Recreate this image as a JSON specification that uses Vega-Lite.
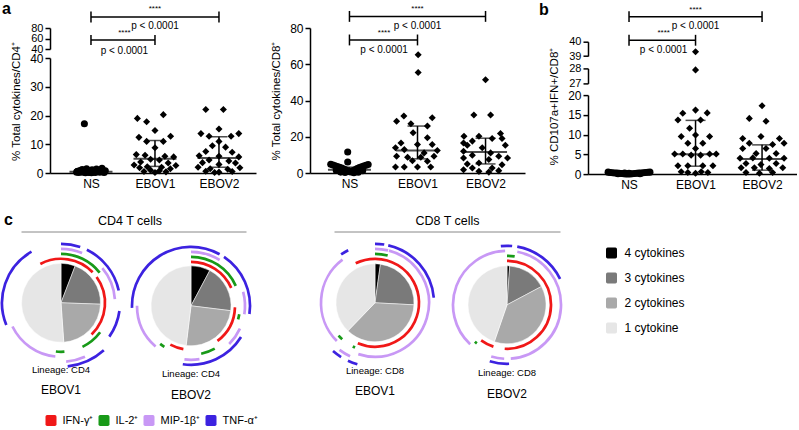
{
"$schema": "https://vega.github.io/schema/vega-lite/v6.json",
"background": "white",
"padding": 0,
"spacing": 20.5,
"align": "each",
"config": {
  "font": "Liberation Sans",
  "view": {"stroke": null},
  "axis": {"domainColor": "#000", "tickColor": "#000", "labelColor": "#000", "titleColor": "#000", "domainWidth": 1.5, "tickWidth": 1.5, "tickSize": 5, "labelFontSize": 12, "titleFontSize": 11.5, "titleFontWeight": "normal", "grid": false, "labelOverlap": false, "labelSeparation": 0, "labelPadding": 2, "labelFont": "Liberation Sans", "titleFont": "Liberation Sans"},
  "axisY": {"labelOverlap": false},
  "title": {"font": "Liberation Sans", "color": "#000", "fontWeight": "normal", "fontSize": 9.5, "subtitleFont": "Liberation Sans", "subtitleFontSize": 12, "subtitleColor": "#000", "subtitlePadding": 11},
  "legend": {"labelFont": "Liberation Sans", "labelColor": "#000", "labelFontSize": 12}
},
"datasets": {
  "cd4": [
    {"g":"NS","v":17.1,"dx":-0.3},
    {"g":"NS","v":0.3,"dx":-0.65},{"g":"NS","v":0.6,"dx":-0.6},{"g":"NS","v":0.2,"dx":-0.55},{"g":"NS","v":0.9,"dx":-0.5},{"g":"NS","v":0.4,"dx":-0.45},{"g":"NS","v":1.2,"dx":-0.4},{"g":"NS","v":0.3,"dx":-0.35},{"g":"NS","v":0.7,"dx":-0.3},{"g":"NS","v":0.1,"dx":-0.25},{"g":"NS","v":1.5,"dx":-0.2},{"g":"NS","v":0.5,"dx":-0.15},{"g":"NS","v":0.2,"dx":-0.1},{"g":"NS","v":0.8,"dx":-0.05},{"g":"NS","v":0.4,"dx":0},{"g":"NS","v":1.1,"dx":0.05},{"g":"NS","v":0.3,"dx":0.1},{"g":"NS","v":0.6,"dx":0.15},{"g":"NS","v":0.2,"dx":0.2},{"g":"NS","v":1.4,"dx":0.25},{"g":"NS","v":0.5,"dx":0.3},{"g":"NS","v":0.9,"dx":0.35},{"g":"NS","v":0.3,"dx":0.4},{"g":"NS","v":0.7,"dx":0.45},{"g":"NS","v":1.6,"dx":0.5},{"g":"NS","v":0.4,"dx":0.55},{"g":"NS","v":0.2,"dx":0.6},{"g":"NS","v":0.8,"dx":0.65},{"g":"NS","v":0.5,"dx":-0.62},{"g":"NS","v":0.6,"dx":0.62},{"g":"NS","v":0.1,"dx":0.02},
    {"g":"EBOV1","v":19.0,"dx":-0.8},{"g":"EBOV1","v":17.8,"dx":-0.38},{"g":"EBOV1","v":20.3,"dx":0.38},{"g":"EBOV1","v":14.8,"dx":0},{"g":"EBOV1","v":12.4,"dx":-0.73},{"g":"EBOV1","v":12.8,"dx":0.71},{"g":"EBOV1","v":11.0,"dx":-0.38},{"g":"EBOV1","v":11.0,"dx":0.38},{"g":"EBOV1","v":8.8,"dx":0},{"g":"EBOV1","v":6.4,"dx":-0.85},{"g":"EBOV1","v":6.2,"dx":-0.45},{"g":"EBOV1","v":5.8,"dx":0.45},{"g":"EBOV1","v":5.6,"dx":0.85},{"g":"EBOV1","v":4.8,"dx":-0.2},{"g":"EBOV1","v":4.5,"dx":0.2},{"g":"EBOV1","v":3.8,"dx":-0.65},{"g":"EBOV1","v":3.5,"dx":0.6},{"g":"EBOV1","v":2.8,"dx":-0.95},{"g":"EBOV1","v":2.6,"dx":0.95},{"g":"EBOV1","v":2.2,"dx":-0.35},{"g":"EBOV1","v":2.0,"dx":0.3},{"g":"EBOV1","v":1.8,"dx":-0.7},{"g":"EBOV1","v":1.5,"dx":0.7},{"g":"EBOV1","v":1.0,"dx":-0.2},{"g":"EBOV1","v":0.8,"dx":0.2},{"g":"EBOV1","v":0.5,"dx":-0.5},{"g":"EBOV1","v":0.4,"dx":0.5},{"g":"EBOV1","v":0.2,"dx":0},
    {"g":"EBOV2","v":22.1,"dx":-0.6},{"g":"EBOV2","v":22.1,"dx":0.2},{"g":"EBOV2","v":15.3,"dx":0},{"g":"EBOV2","v":13.7,"dx":-0.82},{"g":"EBOV2","v":13.7,"dx":0.9},{"g":"EBOV2","v":12.8,"dx":-0.45},{"g":"EBOV2","v":12.8,"dx":0.55},{"g":"EBOV2","v":11.0,"dx":0},{"g":"EBOV2","v":9.5,"dx":-0.3},{"g":"EBOV2","v":9.0,"dx":0.3},{"g":"EBOV2","v":7.5,"dx":-0.6},{"g":"EBOV2","v":7.2,"dx":0.6},{"g":"EBOV2","v":6.0,"dx":-0.9},{"g":"EBOV2","v":5.8,"dx":0},{"g":"EBOV2","v":5.6,"dx":0.9},{"g":"EBOV2","v":4.5,"dx":-0.45},{"g":"EBOV2","v":4.2,"dx":0.45},{"g":"EBOV2","v":3.6,"dx":-0.75},{"g":"EBOV2","v":3.5,"dx":0.75},{"g":"EBOV2","v":3.0,"dx":0},{"g":"EBOV2","v":2.0,"dx":-0.95},{"g":"EBOV2","v":1.8,"dx":0.95},{"g":"EBOV2","v":1.5,"dx":-0.4},{"g":"EBOV2","v":1.3,"dx":0.4},{"g":"EBOV2","v":0.6,"dx":-0.6},{"g":"EBOV2","v":0.5,"dx":0.6},{"g":"EBOV2","v":0.3,"dx":0},{"g":"EBOV2","v":0.2,"dx":-0.2}
  ],
  "cd8": [
    {"g":"NS","v":11.6,"dx":-0.08},{"g":"NS","v":6.1,"dx":-0.08},
    {"g":"NS","v":4.8,"dx":-0.85},{"g":"NS","v":4.4,"dx":-0.75},{"g":"NS","v":4.0,"dx":-0.65},{"g":"NS","v":3.6,"dx":-0.55},{"g":"NS","v":3.2,"dx":-0.45},{"g":"NS","v":2.8,"dx":-0.35},{"g":"NS","v":2.2,"dx":-0.25},{"g":"NS","v":1.6,"dx":-0.15},{"g":"NS","v":1.0,"dx":-0.05},{"g":"NS","v":0.6,"dx":0.05},{"g":"NS","v":1.2,"dx":0.15},{"g":"NS","v":1.8,"dx":0.25},{"g":"NS","v":2.4,"dx":0.35},{"g":"NS","v":3.0,"dx":0.45},{"g":"NS","v":3.4,"dx":0.55},{"g":"NS","v":3.8,"dx":0.65},{"g":"NS","v":4.3,"dx":0.75},{"g":"NS","v":4.7,"dx":0.85},{"g":"NS","v":0.3,"dx":-0.2},{"g":"NS","v":0.2,"dx":0.2},{"g":"NS","v":0.5,"dx":-0.4},{"g":"NS","v":0.4,"dx":0.4},{"g":"NS","v":1.4,"dx":-0.6},{"g":"NS","v":1.3,"dx":0.6},
    {"g":"EBOV1","v":65.2,"dx":0.03},{"g":"EBOV1","v":55.4,"dx":0.03},{"g":"EBOV1","v":31.4,"dx":-0.62},{"g":"EBOV1","v":30.5,"dx":0.67},{"g":"EBOV1","v":28.6,"dx":-0.95},{"g":"EBOV1","v":27.2,"dx":-0.3},{"g":"EBOV1","v":25.9,"dx":0.45},{"g":"EBOV1","v":22.2,"dx":-0.2},{"g":"EBOV1","v":19.4,"dx":0.45},{"g":"EBOV1","v":16.6,"dx":-0.75},{"g":"EBOV1","v":15.7,"dx":0},{"g":"EBOV1","v":15.7,"dx":0.67},{"g":"EBOV1","v":13.9,"dx":-1.0},{"g":"EBOV1","v":12.9,"dx":-0.6},{"g":"EBOV1","v":12.4,"dx":0.9},{"g":"EBOV1","v":11.1,"dx":0.3},{"g":"EBOV1","v":9.2,"dx":-0.95},{"g":"EBOV1","v":8.7,"dx":-0.45},{"g":"EBOV1","v":8.7,"dx":0.15},{"g":"EBOV1","v":9.2,"dx":0.75},{"g":"EBOV1","v":6.8,"dx":-0.23},{"g":"EBOV1","v":6.5,"dx":0.45},{"g":"EBOV1","v":3.3,"dx":-1.0},{"g":"EBOV1","v":3.3,"dx":-0.6},{"g":"EBOV1","v":3.3,"dx":0},{"g":"EBOV1","v":3.3,"dx":0.6},
    {"g":"EBOV2","v":51.4,"dx":0},{"g":"EBOV2","v":32.0,"dx":-0.53},{"g":"EBOV2","v":32.0,"dx":0.23},{"g":"EBOV2","v":21.8,"dx":0.68},{"g":"EBOV2","v":20.3,"dx":-0.98},{"g":"EBOV2","v":20.3,"dx":-0.3},{"g":"EBOV2","v":16.6,"dx":-1.0},{"g":"EBOV2","v":17.6,"dx":-0.6},{"g":"EBOV2","v":19.0,"dx":0.3},{"g":"EBOV2","v":19.0,"dx":0.75},{"g":"EBOV2","v":15.3,"dx":-0.83},{"g":"EBOV2","v":13.9,"dx":-0.15},{"g":"EBOV2","v":15.3,"dx":0.9},{"g":"EBOV2","v":12.0,"dx":-1.0},{"g":"EBOV2","v":11.1,"dx":0.23},{"g":"EBOV2","v":9.8,"dx":-0.6},{"g":"EBOV2","v":9.2,"dx":0.6},{"g":"EBOV2","v":7.4,"dx":0.15},{"g":"EBOV2","v":8.3,"dx":-1.0},{"g":"EBOV2","v":8.3,"dx":1.0},{"g":"EBOV2","v":5.0,"dx":-0.83},{"g":"EBOV2","v":5.5,"dx":-0.3},{"g":"EBOV2","v":4.6,"dx":0.75},{"g":"EBOV2","v":2.8,"dx":-0.6},{"g":"EBOV2","v":2.8,"dx":0.3},{"g":"EBOV2","v":1.8,"dx":-1.0},{"g":"EBOV2","v":0.9,"dx":-0.3},{"g":"EBOV2","v":0.5,"dx":0.15},{"g":"EBOV2","v":1.3,"dx":0.6}
  ],
  "cd107": [
    {"g":"NS","v":0.5,"dx":-0.95},{"g":"NS","v":0.4,"dx":-0.85},{"g":"NS","v":0.35,"dx":-0.75},{"g":"NS","v":0.3,"dx":-0.65},{"g":"NS","v":0.25,"dx":-0.55},{"g":"NS","v":0.2,"dx":-0.45},{"g":"NS","v":0.15,"dx":-0.35},{"g":"NS","v":0.1,"dx":-0.25},{"g":"NS","v":0.05,"dx":-0.15},{"g":"NS","v":0.05,"dx":-0.05},{"g":"NS","v":0.05,"dx":0.05},{"g":"NS","v":0.1,"dx":0.15},{"g":"NS","v":0.15,"dx":0.25},{"g":"NS","v":0.2,"dx":0.35},{"g":"NS","v":0.25,"dx":0.45},{"g":"NS","v":0.3,"dx":0.55},{"g":"NS","v":0.35,"dx":0.65},{"g":"NS","v":0.4,"dx":0.75},{"g":"NS","v":0.45,"dx":0.85},{"g":"NS","v":0.5,"dx":0.95},{"g":"NS","v":0.1,"dx":-0.5},{"g":"NS","v":0.1,"dx":0.5},{"g":"NS","v":0.2,"dx":0},{"g":"NS","v":0.3,"dx":-0.2},
    {"g":"EBOV1","v":39.3,"dx":0},{"g":"EBOV1","v":27.9,"dx":0},{"g":"EBOV1","v":15.4,"dx":-0.58},{"g":"EBOV1","v":16.2,"dx":0},{"g":"EBOV1","v":15.5,"dx":0.53},{"g":"EBOV1","v":13.7,"dx":-0.8},{"g":"EBOV1","v":13.7,"dx":0.23},{"g":"EBOV1","v":11.6,"dx":-0.27},{"g":"EBOV1","v":9.5,"dx":-0.65},{"g":"EBOV1","v":9.9,"dx":0},{"g":"EBOV1","v":9.5,"dx":0.64},{"g":"EBOV1","v":7.8,"dx":-0.35},{"g":"EBOV1","v":7.8,"dx":0.33},{"g":"EBOV1","v":6.5,"dx":0},{"g":"EBOV1","v":5.1,"dx":-0.95},{"g":"EBOV1","v":5.1,"dx":-0.58},{"g":"EBOV1","v":4.8,"dx":-0.2},{"g":"EBOV1","v":4.8,"dx":0.23},{"g":"EBOV1","v":5.1,"dx":0.64},{"g":"EBOV1","v":5.1,"dx":0.94},{"g":"EBOV1","v":2.1,"dx":-0.8},{"g":"EBOV1","v":2.1,"dx":-0.35},{"g":"EBOV1","v":2.1,"dx":0.33},{"g":"EBOV1","v":2.1,"dx":0.79},{"g":"EBOV1","v":0.6,"dx":-0.65},{"g":"EBOV1","v":0.4,"dx":-0.35},{"g":"EBOV1","v":0.2,"dx":0},{"g":"EBOV1","v":0.6,"dx":0.26},{"g":"EBOV1","v":0.4,"dx":0.56},
    {"g":"EBOV2","v":17.3,"dx":0},{"g":"EBOV2","v":14.1,"dx":-0.58},{"g":"EBOV2","v":13.4,"dx":0.18},{"g":"EBOV2","v":9.0,"dx":-0.88},{"g":"EBOV2","v":9.5,"dx":-0.05},{"g":"EBOV2","v":9.0,"dx":0.79},{"g":"EBOV2","v":7.8,"dx":-0.58},{"g":"EBOV2","v":7.5,"dx":0.48},{"g":"EBOV2","v":7.8,"dx":1.0},{"g":"EBOV2","v":6.5,"dx":-0.88},{"g":"EBOV2","v":6.5,"dx":0.18},{"g":"EBOV2","v":5.2,"dx":-0.27},{"g":"EBOV2","v":5.2,"dx":0.64},{"g":"EBOV2","v":4.0,"dx":-1.0},{"g":"EBOV2","v":4.1,"dx":-0.42},{"g":"EBOV2","v":4.0,"dx":0.33},{"g":"EBOV2","v":4.0,"dx":1.0},{"g":"EBOV2","v":2.7,"dx":-0.73},{"g":"EBOV2","v":2.4,"dx":-0.05},{"g":"EBOV2","v":2.7,"dx":0.64},{"g":"EBOV2","v":1.6,"dx":-0.95},{"g":"EBOV2","v":1.6,"dx":-0.35},{"g":"EBOV2","v":1.4,"dx":0.33},{"g":"EBOV2","v":1.6,"dx":0.94},{"g":"EBOV2","v":0.4,"dx":-0.73},{"g":"EBOV2","v":0.2,"dx":-0.12},{"g":"EBOV2","v":0.4,"dx":0.48}
  ],
  "eA1": [{"g":"NS","med":0.4,"lo":0.2,"hi":0.9},{"g":"EBOV1","med":5.0,"lo":2.3,"hi":11.3},{"g":"EBOV2","med":5.2,"lo":2.0,"hi":12.6}],
  "eA2": [{"g":"NS","med":1.8,"lo":0.8,"hi":3.2},{"g":"EBOV1","med":12.4,"lo":7.8,"hi":25.9},{"g":"EBOV2","med":11.6,"lo":5.0,"hi":19.2}],
  "eB": [{"g":"NS","med":0.2,"lo":0.1,"hi":0.3},{"g":"EBOV1","med":5.0,"lo":2.0,"hi":13.6},{"g":"EBOV2","med":3.8,"lo":1.0,"hi":7.4}],
  "brA1": [{"g1":"NS","g2":"EBOV2","y":101,"t0":90.5,"t1":111.5,"gm":"EBOV1","om":0,"ys":115.6,"yp":83.8},{"g1":"NS","g2":"EBOV1","y":57.1,"t0":47.6,"t1":66.6,"gm":"EBOV1","om":-1.39,"ys":69.9,"yp":36.2}],
  "brA2": [{"g1":"NS","g2":"EBOV2","y":86.4,"t0":83.4,"t1":89.4,"gm":"EBOV1","om":0,"ys":90.5,"yp":81.3},{"g1":"NS","g2":"EBOV1","y":73.4,"t0":70.4,"t1":76.4,"gm":"EBOV1","om":-1.52,"ys":77.2,"yp":67.8}],
  "brB": [{"g1":"NS","g2":"EBOV2","y":41.75,"t0":41.37,"t1":42.13,"gm":"EBOV1","om":0,"ys":42.2,"yp":41.1},{"g1":"NS","g2":"EBOV1","y":40.1,"t0":39.72,"t1":40.48,"gm":"EBOV1","om":-1.45,"ys":40.59,"yp":39.4}],
  "slices": [
    {"pie":"p1","n":"4 cytokines","a0":0,"a1":21},{"pie":"p1","n":"3 cytokines","a0":21,"a1":92},{"pie":"p1","n":"2 cytokines","a0":92,"a1":176},{"pie":"p1","n":"1 cytokine","a0":176,"a1":360},
    {"pie":"p2","n":"4 cytokines","a0":0,"a1":28},{"pie":"p2","n":"3 cytokines","a0":28,"a1":97},{"pie":"p2","n":"2 cytokines","a0":97,"a1":187},{"pie":"p2","n":"1 cytokine","a0":187,"a1":360},
    {"pie":"p3","n":"4 cytokines","a0":0,"a1":8},{"pie":"p3","n":"3 cytokines","a0":8,"a1":93},{"pie":"p3","n":"2 cytokines","a0":93,"a1":224},{"pie":"p3","n":"1 cytokine","a0":224,"a1":360},
    {"pie":"p4","n":"4 cytokines","a0":0,"a1":4},{"pie":"p4","n":"3 cytokines","a0":4,"a1":62},{"pie":"p4","n":"2 cytokines","a0":62,"a1":199},{"pie":"p4","n":"1 cytokine","a0":199,"a1":360}
  ],
  "rings": [
    {"pie":"p1","c":"IFN-γ⁺","a0":332,"a1":406,"ring":1},{"pie":"p1","c":"IFN-γ⁺","a0":54,"a1":136,"ring":1},
    {"pie":"p1","c":"IL-2⁺","a0":0,"a1":52,"ring":2},{"pie":"p1","c":"IL-2⁺","a0":127,"a1":154,"ring":2},{"pie":"p1","c":"IL-2⁺","a0":176,"a1":186,"ring":2},
    {"pie":"p1","c":"MIP-1β⁺","a0":0,"a1":23,"ring":3},{"pie":"p1","c":"MIP-1β⁺","a0":50,"a1":86,"ring":3},{"pie":"p1","c":"MIP-1β⁺","a0":186,"a1":244,"ring":3},{"pie":"p1","c":"MIP-1β⁺","a0":156,"a1":175,"ring":4},
    {"pie":"p1","c":"TNF-α⁺","a0":0,"a1":19,"ring":4},{"pie":"p1","c":"TNF-α⁺","a0":26,"a1":78,"ring":4},{"pie":"p1","c":"TNF-α⁺","a0":98,"a1":125,"ring":4},{"pie":"p1","c":"TNF-α⁺","a0":138,"a1":174,"ring":5},{"pie":"p1","c":"TNF-α⁺","a0":248,"a1":330,"ring":4},
    {"pie":"p2","c":"IFN-γ⁺","a0":0,"a1":66,"ring":1},{"pie":"p2","c":"IFN-γ⁺","a0":92,"a1":143,"ring":1},{"pie":"p2","c":"IFN-γ⁺","a0":190,"a1":208,"ring":1},
    {"pie":"p2","c":"IL-2⁺","a0":0,"a1":66,"ring":2},{"pie":"p2","c":"IL-2⁺","a0":100,"a1":106,"ring":2},{"pie":"p2","c":"IL-2⁺","a0":151,"a1":168,"ring":2},{"pie":"p2","c":"IL-2⁺","a0":213,"a1":219,"ring":2},
    {"pie":"p2","c":"MIP-1β⁺","a0":0,"a1":32,"ring":3},{"pie":"p2","c":"MIP-1β⁺","a0":75,"a1":99,"ring":3},{"pie":"p2","c":"MIP-1β⁺","a0":115,"a1":135,"ring":3},{"pie":"p2","c":"MIP-1β⁺","a0":171,"a1":187,"ring":3},{"pie":"p2","c":"MIP-1β⁺","a0":221,"a1":270,"ring":3},
    {"pie":"p2","c":"TNF-α⁺","a0":268,"a1":389,"ring":4},{"pie":"p2","c":"TNF-α⁺","a0":34,"a1":98,"ring":4},{"pie":"p2","c":"TNF-α⁺","a0":122,"a1":188,"ring":4},
    {"pie":"p3","c":"IFN-γ⁺","a0":334,"a1":563,"ring":1},
    {"pie":"p3","c":"IL-2⁺","a0":0,"a1":15,"ring":2},{"pie":"p3","c":"IL-2⁺","a0":222,"a1":228,"ring":2},{"pie":"p3","c":"IL-2⁺","a0":204,"a1":207,"ring":2},
    {"pie":"p3","c":"MIP-1β⁺","a0":0,"a1":14,"ring":3},{"pie":"p3","c":"MIP-1β⁺","a0":15,"a1":198,"ring":3},{"pie":"p3","c":"MIP-1β⁺","a0":225,"a1":323,"ring":3},{"pie":"p3","c":"MIP-1β⁺","a0":205,"a1":217,"ring":4},
    {"pie":"p3","c":"TNF-α⁺","a0":0,"a1":9,"ring":4},{"pie":"p3","c":"TNF-α⁺","a0":13,"a1":85,"ring":4},{"pie":"p3","c":"TNF-α⁺","a0":325,"a1":333,"ring":4},{"pie":"p3","c":"TNF-α⁺","a0":212,"a1":221,"ring":5},{"pie":"p3","c":"TNF-α⁺","a0":196,"a1":205,"ring":5},
    {"pie":"p4","c":"IFN-γ⁺","a0":0,"a1":183,"ring":1},{"pie":"p4","c":"IFN-γ⁺","a0":198,"a1":216,"ring":1},
    {"pie":"p4","c":"IL-2⁺","a0":0,"a1":9,"ring":2},{"pie":"p4","c":"IL-2⁺","a0":218,"a1":221,"ring":2},
    {"pie":"p4","c":"MIP-1β⁺","a0":223,"a1":358,"ring":3},{"pie":"p4","c":"MIP-1β⁺","a0":11,"a1":176,"ring":3},{"pie":"p4","c":"MIP-1β⁺","a0":183,"a1":197,"ring":3},
    {"pie":"p4","c":"TNF-α⁺","a0":354,"a1":365,"ring":4},{"pie":"p4","c":"TNF-α⁺","a0":10,"a1":64,"ring":4},{"pie":"p4","c":"TNF-α⁺","a0":178,"a1":197,"ring":4}
  ]
},
"vconcat": [
 {"spacing": 14, "align": "each", "hconcat": [
  {"bounds": "flush", "spacing": 9, "align": "each",
   "title": {"text": "a", "anchor": "start", "frame": "group", "dx": -19, "offset": -11.5, "fontSize": 16, "fontWeight": "bold"},
   "vconcat": [
    {"width": 235, "height": 21, "layer": [
     {"data": {"name": "brA1"}, "mark": {"type": "rule", "strokeWidth": 1.5, "color": "#000"},
      "encoding": {"x": {"field": "g1", "type": "nominal", "scale": {"type": "point", "domain": ["NS","EBOV1","EBOV2"], "padding": 0.836, "align": 0.654}, "axis": null}, "x2": {"field": "g2"},
       "y": {"field": "y", "type": "quantitative", "scale": {"domain": [40, 80], "nice": false, "zero": false}, "axis": {"values": [40, 60, 80], "title": null, "offset": -29, "labelOverlap": false, "labelFontSize": 11}}}},
     {"data": {"name": "brA1"}, "mark": {"type": "rule", "strokeWidth": 1.5, "color": "#000"},
      "encoding": {"x": {"field": "g1", "type": "nominal", "title": null}, "y": {"field": "t0", "type": "quantitative", "axis": {"values": [40, 60, 80], "title": null, "offset": -29, "labelOverlap": false, "labelFontSize": 11}}, "y2": {"field": "t1"}}},
     {"data": {"name": "brA1"}, "mark": {"type": "rule", "strokeWidth": 1.5, "color": "#000"},
      "encoding": {"x": {"field": "g2", "type": "nominal", "title": null}, "y": {"field": "t0", "type": "quantitative", "axis": {"values": [40, 60, 80], "title": null, "offset": -29, "labelOverlap": false, "labelFontSize": 11}}, "y2": {"field": "t1"}}},
     {"data": {"name": "brA1"}, "mark": {"type": "text", "fontSize": 8, "baseline": "middle", "color": "#000"},
      "encoding": {"x": {"field": "gm", "type": "nominal", "title": null}, "xOffset": {"field": "om", "type": "quantitative", "scale": {"domain": [-1, 1], "range": [-22, 22]}},
       "y": {"field": "ys", "type": "quantitative", "axis": {"values": [40, 60, 80], "title": null, "offset": -29, "labelOverlap": false, "labelFontSize": 11}}, "text": {"value": "****"}}},
     {"data": {"name": "brA1"}, "mark": {"type": "text", "fontSize": 10, "baseline": "middle", "color": "#000"},
      "encoding": {"x": {"field": "gm", "type": "nominal", "title": null}, "xOffset": {"field": "om", "type": "quantitative", "scale": {"domain": [-1, 1], "range": [-22, 22]}},
       "y": {"field": "yp", "type": "quantitative", "axis": {"values": [40, 60, 80], "title": null, "offset": -29, "labelOverlap": false, "labelFontSize": 11}}, "text": {"value": "p < 0.0001"}}}
    ]},
    {"width": 235, "height": 115, "layer": [
     {"data": {"name": "cd4"}, "mark": {"type": "point", "filled": true, "size": 50, "opacity": 1, "color": "#000"},
      "encoding": {"x": {"field": "g", "type": "nominal", "scale": {"type": "point", "domain": ["NS","EBOV1","EBOV2"], "padding": 0.836, "align": 0.654}, "axis": {"title": null, "labelAngle": 0, "ticks": false, "labelPadding": 5, "domainDash": [0, 29, 206, 20]}},
       "xOffset": {"field": "dx", "type": "quantitative", "scale": {"domain": [-1, 1], "range": [-22, 22]}},
       "y": {"field": "v", "type": "quantitative", "scale": {"domain": [0, 40], "nice": false}, "axis": {"values": [0, 10, 20, 30, 40], "title": "% Total cytokines/CD4⁺", "titleY": 43, "titlePadding": 8, "offset": -29, "labelOverlap": false}},
       "shape": {"field": "g", "type": "nominal", "scale": {"domain": ["NS","EBOV1","EBOV2"], "range": ["circle","diamond","diamond"]}, "legend": null}}},
     {"data": {"name": "eA1"}, "mark": {"type": "rule", "strokeWidth": 1.5, "color": "#000"},
      "encoding": {"x": {"field": "g", "type": "nominal", "title": null}, "y": {"field": "lo", "type": "quantitative", "axis": {"values": [0, 10, 20, 30, 40], "title": "% Total cytokines/CD4⁺", "titleY": 43, "titlePadding": 8, "offset": -29, "labelOverlap": false}}, "y2": {"field": "hi"}}},
     {"data": {"name": "eA1"}, "mark": {"type": "tick", "size": 43, "thickness": 2, "color": "#000"},
      "encoding": {"x": {"field": "g", "type": "nominal", "title": null}, "y": {"field": "med", "type": "quantitative", "axis": {"values": [0, 10, 20, 30, 40], "title": "% Total cytokines/CD4⁺", "titleY": 43, "titlePadding": 8, "offset": -29, "labelOverlap": false}}}},
     {"data": {"name": "eA1"}, "mark": {"type": "tick", "size": 17, "thickness": 1.5, "color": "#000"},
      "encoding": {"x": {"field": "g", "type": "nominal", "title": null}, "y": {"field": "lo", "type": "quantitative", "axis": {"values": [0, 10, 20, 30, 40], "title": "% Total cytokines/CD4⁺", "titleY": 43, "titlePadding": 8, "offset": -29, "labelOverlap": false}}}},
     {"data": {"name": "eA1"}, "mark": {"type": "tick", "size": 17, "thickness": 1.5, "color": "#000"},
      "encoding": {"x": {"field": "g", "type": "nominal", "title": null}, "y": {"field": "hi", "type": "quantitative", "axis": {"values": [0, 10, 20, 30, 40], "title": "% Total cytokines/CD4⁺", "titleY": 43, "titlePadding": 8, "offset": -29, "labelOverlap": false}}}}
    ]}
   ]},
  {"width": 215, "height": 145, "layer": [
    {"data": {"name": "cd8"}, "mark": {"type": "point", "filled": true, "size": 50, "opacity": 1, "color": "#000"},
     "encoding": {"x": {"field": "g", "type": "nominal", "scale": {"type": "point", "domain": ["NS","EBOV1","EBOV2"], "padding": 0.58}, "axis": {"title": null, "labelAngle": 0, "ticks": false, "labelPadding": 5}},
      "xOffset": {"field": "dx", "type": "quantitative", "scale": {"domain": [-1, 1], "range": [-22, 22]}},
      "y": {"field": "v", "type": "quantitative", "scale": {"domain": [0, 80], "nice": false}, "axis": {"values": [0, 20, 40, 60, 80], "title": "% Total cytokines/CD8⁺", "titlePadding": 8, "labelOverlap": false}},
      "shape": {"field": "g", "type": "nominal", "scale": {"domain": ["NS","EBOV1","EBOV2"], "range": ["circle","diamond","diamond"]}, "legend": null}}},
    {"data": {"name": "eA2"}, "mark": {"type": "rule", "strokeWidth": 1.5, "color": "#000"},
     "encoding": {"x": {"field": "g", "type": "nominal", "title": null}, "y": {"field": "lo", "type": "quantitative", "axis": {"values": [0, 20, 40, 60, 80], "title": "% Total cytokines/CD8⁺", "titlePadding": 8, "labelOverlap": false}}, "y2": {"field": "hi"}}},
    {"data": {"name": "eA2"}, "mark": {"type": "tick", "size": 43, "thickness": 2, "color": "#000"},
     "encoding": {"x": {"field": "g", "type": "nominal", "title": null}, "y": {"field": "med", "type": "quantitative", "axis": {"values": [0, 20, 40, 60, 80], "title": "% Total cytokines/CD8⁺", "titlePadding": 8, "labelOverlap": false}}}},
    {"data": {"name": "eA2"}, "mark": {"type": "tick", "size": 20, "thickness": 1.5, "color": "#000"},
     "encoding": {"x": {"field": "g", "type": "nominal", "title": null}, "y": {"field": "lo", "type": "quantitative", "axis": {"values": [0, 20, 40, 60, 80], "title": "% Total cytokines/CD8⁺", "titlePadding": 8, "labelOverlap": false}}}},
    {"data": {"name": "eA2"}, "mark": {"type": "tick", "size": 20, "thickness": 1.5, "color": "#000"},
     "encoding": {"x": {"field": "g", "type": "nominal", "title": null}, "y": {"field": "hi", "type": "quantitative", "axis": {"values": [0, 20, 40, 60, 80], "title": "% Total cytokines/CD8⁺", "titlePadding": 8, "labelOverlap": false}}}},
    {"data": {"name": "brA2"}, "mark": {"type": "rule", "strokeWidth": 1.5, "color": "#000"},
     "encoding": {"x": {"field": "g1", "type": "nominal", "title": null}, "x2": {"field": "g2"}, "y": {"field": "y", "type": "quantitative", "axis": {"values": [0, 20, 40, 60, 80], "title": "% Total cytokines/CD8⁺", "titlePadding": 8, "labelOverlap": false}}}},
    {"data": {"name": "brA2"}, "mark": {"type": "rule", "strokeWidth": 1.5, "color": "#000"},
     "encoding": {"x": {"field": "g1", "type": "nominal", "title": null}, "y": {"field": "t0", "type": "quantitative", "axis": {"values": [0, 20, 40, 60, 80], "title": "% Total cytokines/CD8⁺", "titlePadding": 8, "labelOverlap": false}}, "y2": {"field": "t1"}}},
    {"data": {"name": "brA2"}, "mark": {"type": "rule", "strokeWidth": 1.5, "color": "#000"},
     "encoding": {"x": {"field": "g2", "type": "nominal", "title": null}, "y": {"field": "t0", "type": "quantitative", "axis": {"values": [0, 20, 40, 60, 80], "title": "% Total cytokines/CD8⁺", "titlePadding": 8, "labelOverlap": false}}, "y2": {"field": "t1"}}},
    {"data": {"name": "brA2"}, "mark": {"type": "text", "fontSize": 8, "baseline": "middle", "color": "#000"},
     "encoding": {"x": {"field": "gm", "type": "nominal", "title": null}, "xOffset": {"field": "om", "type": "quantitative", "scale": {"domain": [-1, 1], "range": [-22, 22]}}, "y": {"field": "ys", "type": "quantitative", "axis": {"values": [0, 20, 40, 60, 80], "title": "% Total cytokines/CD8⁺", "titlePadding": 8, "labelOverlap": false}}, "text": {"value": "****"}}},
    {"data": {"name": "brA2"}, "mark": {"type": "text", "fontSize": 10, "baseline": "middle", "color": "#000"},
     "encoding": {"x": {"field": "gm", "type": "nominal", "title": null}, "xOffset": {"field": "om", "type": "quantitative", "scale": {"domain": [-1, 1], "range": [-22, 22]}}, "y": {"field": "yp", "type": "quantitative", "axis": {"values": [0, 20, 40, 60, 80], "title": "% Total cytokines/CD8⁺", "titlePadding": 8, "labelOverlap": false}}, "text": {"value": "p < 0.0001"}}}
  ]},
  {"bounds": "flush", "spacing": 11.7, "align": "each",
   "title": {"text": "b", "anchor": "start", "frame": "group", "dx": -49, "offset": -11.5, "fontSize": 16, "fontWeight": "bold"},
   "vconcat": [
    {"width": 209, "height": 2, "data": {"values": []}, "mark": "point"},
    {"width": 209, "height": 14.3, "layer": [
     {"data": {"name": "cd107"}, "transform": [{"filter": "datum.v >= 38.5"}], "mark": {"type": "point", "filled": true, "size": 50, "opacity": 1, "color": "#000", "shape": "diamond"},
      "encoding": {"x": {"field": "g", "type": "nominal", "scale": {"type": "point", "domain": ["NS","EBOV1","EBOV2"], "padding": 0.571, "align": 0.54}, "axis": null},
       "xOffset": {"field": "dx", "type": "quantitative", "scale": {"domain": [-1, 1], "range": [-22, 22]}},
       "y": {"field": "v", "type": "quantitative", "scale": {"domain": [39, 40], "nice": false, "zero": false}, "axis": {"values": [39, 40], "format": "d", "title": null, "labelOverlap": false, "labelFontSize": 11}}}},
     {"data": {"name": "brB"}, "mark": {"type": "rule", "strokeWidth": 1.5, "color": "#000"},
      "encoding": {"x": {"field": "g1", "type": "nominal", "title": null}, "x2": {"field": "g2"}, "y": {"field": "y", "type": "quantitative", "axis": {"values": [39, 40], "format": "d", "title": null, "labelOverlap": false, "labelFontSize": 11}}}},
     {"data": {"name": "brB"}, "mark": {"type": "rule", "strokeWidth": 1.5, "color": "#000"},
      "encoding": {"x": {"field": "g1", "type": "nominal", "title": null}, "y": {"field": "t0", "type": "quantitative", "axis": {"values": [39, 40], "format": "d", "title": null, "labelOverlap": false, "labelFontSize": 11}}, "y2": {"field": "t1"}}},
     {"data": {"name": "brB"}, "mark": {"type": "rule", "strokeWidth": 1.5, "color": "#000"},
      "encoding": {"x": {"field": "g2", "type": "nominal", "title": null}, "y": {"field": "t0", "type": "quantitative", "axis": {"values": [39, 40], "format": "d", "title": null, "labelOverlap": false, "labelFontSize": 11}}, "y2": {"field": "t1"}}},
     {"data": {"name": "brB"}, "mark": {"type": "text", "fontSize": 8, "baseline": "middle", "color": "#000"},
      "encoding": {"x": {"field": "gm", "type": "nominal", "title": null}, "xOffset": {"field": "om", "type": "quantitative", "scale": {"domain": [-1, 1], "range": [-22, 22]}}, "y": {"field": "ys", "type": "quantitative", "axis": {"values": [39, 40], "format": "d", "title": null, "labelOverlap": false, "labelFontSize": 11}}, "text": {"value": "****"}}},
     {"data": {"name": "brB"}, "mark": {"type": "text", "fontSize": 10, "baseline": "middle", "color": "#000"},
      "encoding": {"x": {"field": "gm", "type": "nominal", "title": null}, "xOffset": {"field": "om", "type": "quantitative", "scale": {"domain": [-1, 1], "range": [-22, 22]}}, "y": {"field": "yp", "type": "quantitative", "axis": {"values": [39, 40], "format": "d", "title": null, "labelOverlap": false, "labelFontSize": 11}}, "text": {"value": "p < 0.0001"}}}
    ]},
    {"width": 209, "height": 15, "data": {"name": "cd107"}, "transform": [{"filter": "datum.v >= 26.5 && datum.v < 38.5"}],
     "mark": {"type": "point", "filled": true, "size": 50, "opacity": 1, "color": "#000", "shape": "diamond"},
     "encoding": {"x": {"field": "g", "type": "nominal", "scale": {"type": "point", "domain": ["NS","EBOV1","EBOV2"], "padding": 0.571, "align": 0.54}, "axis": null},
      "xOffset": {"field": "dx", "type": "quantitative", "scale": {"domain": [-1, 1], "range": [-22, 22]}},
      "y": {"field": "v", "type": "quantitative", "scale": {"domain": [27, 28], "nice": false, "zero": false}, "axis": {"values": [27, 28], "format": "d", "title": null, "labelOverlap": false, "labelFontSize": 11}}}},
    {"width": 209, "height": 79, "layer": [
     {"data": {"name": "cd107"}, "transform": [{"filter": "datum.v <= 20.5"}], "mark": {"type": "point", "filled": true, "size": 50, "opacity": 1, "color": "#000"},
      "encoding": {"x": {"field": "g", "type": "nominal", "scale": {"type": "point", "domain": ["NS","EBOV1","EBOV2"], "padding": 0.571, "align": 0.54}, "axis": {"title": null, "labelAngle": 0, "ticks": false, "labelPadding": 5}},
       "xOffset": {"field": "dx", "type": "quantitative", "scale": {"domain": [-1, 1], "range": [-22, 22]}},
       "y": {"field": "v", "type": "quantitative", "scale": {"domain": [0, 20], "nice": false}, "axis": {"values": [0, 5, 10, 15, 20], "title": "% CD107a+IFN+/CD8⁺", "titleY": 11, "titlePadding": 8, "labelOverlap": false}},
       "shape": {"field": "g", "type": "nominal", "scale": {"domain": ["NS","EBOV1","EBOV2"], "range": ["circle","diamond","diamond"]}, "legend": null}}},
     {"data": {"name": "eB"}, "mark": {"type": "rule", "strokeWidth": 1.5, "color": "#000"},
      "encoding": {"x": {"field": "g", "type": "nominal", "title": null}, "y": {"field": "lo", "type": "quantitative", "axis": {"values": [0, 5, 10, 15, 20], "title": "% CD107a+IFN+/CD8⁺", "titleY": 11, "titlePadding": 8, "labelOverlap": false}}, "y2": {"field": "hi"}}},
     {"data": {"name": "eB"}, "mark": {"type": "tick", "size": 43, "thickness": 2, "color": "#000"},
      "encoding": {"x": {"field": "g", "type": "nominal", "title": null}, "y": {"field": "med", "type": "quantitative", "axis": {"values": [0, 5, 10, 15, 20], "title": "% CD107a+IFN+/CD8⁺", "titleY": 11, "titlePadding": 8, "labelOverlap": false}}}},
     {"data": {"name": "eB"}, "mark": {"type": "tick", "size": 20, "thickness": 1.5, "color": "#000"},
      "encoding": {"x": {"field": "g", "type": "nominal", "title": null}, "y": {"field": "lo", "type": "quantitative", "axis": {"values": [0, 5, 10, 15, 20], "title": "% CD107a+IFN+/CD8⁺", "titleY": 11, "titlePadding": 8, "labelOverlap": false}}}},
     {"data": {"name": "eB"}, "mark": {"type": "tick", "size": 20, "thickness": 1.5, "color": "#000"},
      "encoding": {"x": {"field": "g", "type": "nominal", "title": null}, "y": {"field": "hi", "type": "quantitative", "axis": {"values": [0, 5, 10, 15, 20], "title": "% CD107a+IFN+/CD8⁺", "titleY": 11, "titlePadding": 8, "labelOverlap": false}}}}
    ]}
   ]}
 ]},
 {"spacing": 67, "align": "each", "hconcat": [
  {"spacing": 9.3, "align": "each",
   "title": {"text": "c", "anchor": "start", "frame": "group", "dx": -17, "offset": -13.5, "fontSize": 16, "fontWeight": "bold"},
   "vconcat": [
    {"width": 225, "height": 1, "data": {"values": [{"h": "CD4 T cells"}]}, "mark": {"type": "point", "size": 0, "opacity": 0},
     "encoding": {"x": {"field": "h", "type": "nominal", "axis": {"orient": "top", "ticks": false, "domainColor": "#888", "domainWidth": 1, "labelFontSize": 12.5, "labelPadding": 4, "labelAngle": 0, "title": null, "labelOffset": -4}}}},
    {"bounds": "flush", "spacing": 35, "align": "each", "hconcat": [
     {"width": 80, "height": 100, "title": {"text": "Lineage: CD4", "subtitle": "EBOV1", "orient": "bottom", "frame": "group", "offset": -3},
      "layer": [
       {"data": {"name": "slices"}, "transform": [{"filter": "datum.pie == 'p1'"}], "mark": {"type": "arc", "radius": 39.5, "stroke": "#fff", "strokeWidth": 0.5},
        "encoding": {"theta": {"field": "a0", "type": "quantitative", "scale": {"domain": [0, 360], "range": [0, 6.2832]}, "stack": null}, "theta2": {"field": "a1"},
         "color": {"field": "n", "type": "nominal", "scale": {"domain": ["4 cytokines","3 cytokines","2 cytokines","1 cytokine"], "range": ["#000000","#7a7a7a","#a9a9a9","#e6e6e6"]},
          "legend": {"title": null, "orient": "none", "legendX": 584.5, "legendY": 219, "symbolType": "M -0.7 -1 L 0.7 -1 Q 1 -1 1 -0.7 L 1 0.7 Q 1 1 0.7 1 L -0.7 1 Q -1 1 -1 0.7 L -1 -0.7 Q -1 -1 -0.7 -1 Z", "symbolSize": 121, "rowPadding": 13, "labelOffset": 7, "symbolStrokeWidth": 0}}}},
       {"data": {"name": "rings"}, "transform": [{"filter": "datum.pie == 'p1'"}], "mark": {"type": "arc", "strokeWidth": 2.7, "strokeJoin": "bevel"},
        "encoding": {"theta": {"field": "a0", "type": "quantitative", "stack": null}, "theta2": {"field": "a1"},
         "radius": {"field": "ring", "type": "quantitative", "scale": {"type": "linear", "zero": false, "domain": [0, 5], "range": [39, 64]}}, "radius2": {"field": "ring"},
         "fill": {"field": "c", "type": "nominal", "scale": {"domain": ["IFN-γ⁺","IL-2⁺","MIP-1β⁺","TNF-α⁺"], "range": ["#f01818","#189a18","#c898f5","#3c22e0"]},
          "legend": {"title": null, "orient": "none", "direction": "horizontal", "columns": 4, "gridAlign": "none", "legendX": 24.5, "legendY": 387, "symbolType": "M -0.7 -1 L 0.7 -1 Q 1 -1 1 -0.7 L 1 0.7 Q 1 1 0.7 1 L -0.7 1 Q -1 1 -1 0.7 L -1 -0.7 Q -1 -1 -0.7 -1 Z", "symbolSize": 121, "columnPadding": 5, "labelOffset": 6, "labelFontSize": 11, "symbolStrokeWidth": 0}},
         "stroke": {"field": "c", "type": "nominal", "scale": {"domain": ["IFN-γ⁺","IL-2⁺","MIP-1β⁺","TNF-α⁺"], "range": ["#f01818","#189a18","#c898f5","#3c22e0"]}, "legend": null}}}
      ]},
     {"width": 110, "height": 106, "title": {"text": "Lineage: CD4", "subtitle": "EBOV2", "orient": "bottom", "frame": "group", "offset": 3},
      "layer": [
       {"data": {"name": "slices"}, "transform": [{"filter": "datum.pie == 'p2'"}], "mark": {"type": "arc", "radius": 40, "stroke": "#fff", "strokeWidth": 0.5},
        "encoding": {"theta": {"field": "a0", "type": "quantitative", "scale": {"domain": [0, 360], "range": [0, 6.2832]}, "stack": null}, "theta2": {"field": "a1"},
         "color": {"field": "n", "type": "nominal"}}},
       {"data": {"name": "rings"}, "transform": [{"filter": "datum.pie == 'p2'"}], "mark": {"type": "arc", "strokeWidth": 2.7, "strokeJoin": "bevel"},
        "encoding": {"theta": {"field": "a0", "type": "quantitative", "stack": null}, "theta2": {"field": "a1"},
         "radius": {"field": "ring", "type": "quantitative", "scale": {"type": "linear", "zero": false, "domain": [0, 5], "range": [39, 64]}}, "radius2": {"field": "ring"},
         "fill": {"field": "c", "type": "nominal"}, "stroke": {"field": "c", "type": "nominal", "legend": null}}}
      ]}
    ]}
   ]},
  {"spacing": 9.3, "align": "each",
   "vconcat": [
    {"width": 226, "height": 1, "data": {"values": [{"h": "CD8 T cells"}]}, "mark": {"type": "point", "size": 0, "opacity": 0},
     "encoding": {"x": {"field": "h", "type": "nominal", "axis": {"orient": "top", "ticks": false, "domainColor": "#888", "domainWidth": 1, "labelFontSize": 12.5, "labelPadding": 4, "labelAngle": 0, "title": null}}}},
    {"bounds": "flush", "spacing": 38, "align": "each", "hconcat": [
     {"width": 82, "height": 96, "title": {"text": "Lineage: CD8", "subtitle": "EBOV1", "orient": "bottom", "frame": "group", "offset": 0},
      "layer": [
       {"data": {"name": "slices"}, "transform": [{"filter": "datum.pie == 'p3'"}], "mark": {"type": "arc", "radius": 39, "stroke": "#fff", "strokeWidth": 0.5},
        "encoding": {"theta": {"field": "a0", "type": "quantitative", "scale": {"domain": [0, 360], "range": [0, 6.2832]}, "stack": null}, "theta2": {"field": "a1"},
         "color": {"field": "n", "type": "nominal"}}},
       {"data": {"name": "rings"}, "transform": [{"filter": "datum.pie == 'p3'"}], "mark": {"type": "arc", "strokeWidth": 2.7, "strokeJoin": "bevel"},
        "encoding": {"theta": {"field": "a0", "type": "quantitative", "stack": null}, "theta2": {"field": "a1"},
         "radius": {"field": "ring", "type": "quantitative", "scale": {"type": "linear", "zero": false, "domain": [0, 5], "range": [39, 64]}}, "radius2": {"field": "ring"},
         "fill": {"field": "c", "type": "nominal"}, "stroke": {"field": "c", "type": "nominal", "legend": null}}}
      ]},
     {"width": 106, "height": 100, "title": {"text": "Lineage: CD8", "subtitle": "EBOV2", "orient": "bottom", "frame": "group", "offset": 3},
      "layer": [
       {"data": {"name": "slices"}, "transform": [{"filter": "datum.pie == 'p4'"}], "mark": {"type": "arc", "radius": 39, "stroke": "#fff", "strokeWidth": 0.5},
        "encoding": {"theta": {"field": "a0", "type": "quantitative", "scale": {"domain": [0, 360], "range": [0, 6.2832]}, "stack": null}, "theta2": {"field": "a1"},
         "color": {"field": "n", "type": "nominal"}}},
       {"data": {"name": "rings"}, "transform": [{"filter": "datum.pie == 'p4'"}], "mark": {"type": "arc", "strokeWidth": 2.7, "strokeJoin": "bevel"},
        "encoding": {"theta": {"field": "a0", "type": "quantitative", "stack": null}, "theta2": {"field": "a1"},
         "radius": {"field": "ring", "type": "quantitative", "scale": {"type": "linear", "zero": false, "domain": [0, 5], "range": [39, 64]}}, "radius2": {"field": "ring"},
         "fill": {"field": "c", "type": "nominal"}, "stroke": {"field": "c", "type": "nominal", "legend": null}}}
      ]}
    ]}
   ]}
 ]}
]
}
